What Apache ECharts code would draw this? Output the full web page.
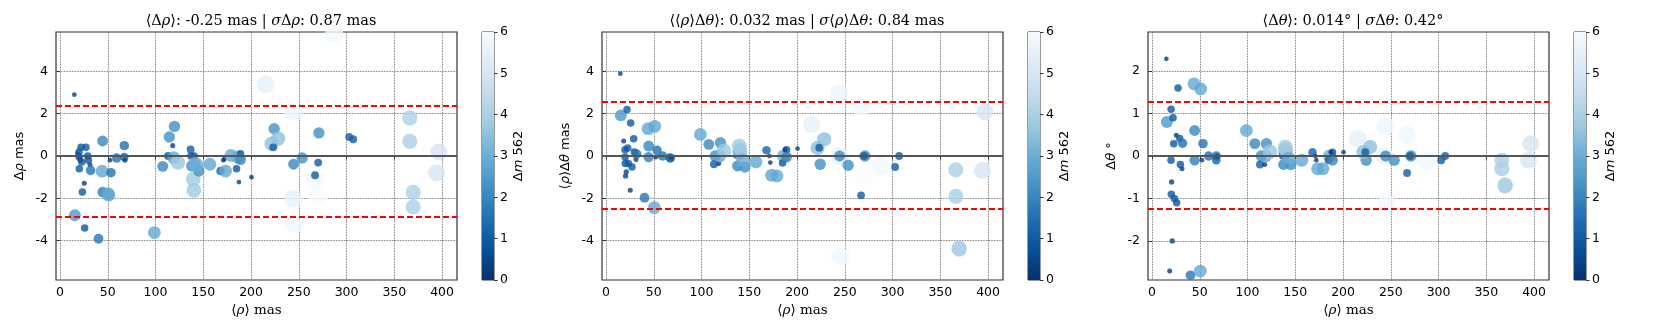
<!DOCTYPE html>
<html>
<head>
<meta charset="utf-8">
<script src="https://cdn.jsdelivr.net/npm/echarts@6/dist/echarts.min.js"></script>
<style>
  body { margin: 0; background: #fff; }
  #main { width: 1661px; height: 332px; }
</style>
</head>
<body>
<div id="main"></div>
<script>
// separation <rho> (mas) and magnitude difference of each pair
var rho = [15.0, 15.5, 18.5, 20.5, 21.2, 25.4, 31.4, 19.9, 20.0, 20.2, 22.0, 22.7, 23.4, 25.8, 27.2, 29.0, 29.7, 32.0,
  40.3, 44.0, 44.6, 44.6, 50.6, 51.0, 53.4, 52.3, 59.3, 67.3, 67.3, 68.0,
  98.8, 107.6, 114.4, 119.8, 113.0, 118.0, 119.0, 123.5,
  136.7, 137.0, 140.5, 137.7, 140.5, 139.5, 140.2, 145.4, 143.0, 156.9,
  168.0, 171.0, 172.0, 173.3, 179.0, 185.9, 189.0, 184.8, 187.3, 200.5, 189.0,
  215.4, 244.1, 244.1, 245.5, 287.0, 266.8, 270.3, 224.2, 221.4, 228.4, 223.2, 244.5, 267.0, 253.5, 271.0, 270.3, 302.7, 306.9,
  366.2, 366.2, 369.7, 369.7, 396.5, 394.1];
var dm = [0.3, 2.4, 0.35, 0.4, 0.4, 0.35, 0.35, 0.9, 0.9, 0.9, 0.9, 0.9, 0.9, 0.9, 0.9, 0.9, 0.9, 1.5,
  1.6, 2.8, 2.0, 1.8, 2.8, 2.8, 1.5, 0.3, 1.5, 1.5, 1.2, 0.35,
  2.8, 2.0, 2.2, 2.2, 1.0, 0.35, 2.8, 3.7,
  1.0, 0.9, 0.9, 2.0, 3.0, 3.8, 3.8, 2.2, 3.0, 2.8,
  1.2, 0.3, 0.3, 2.8, 2.8, 3.0, 0.9, 0.9, 0.3, 0.3, 2.0,
  5.5, 5.7, 5.5, 5.8, 5.8, 5.8, 6.0, 2.2, 3.5, 3.5, 1.0, 2.0, 1.0, 2.2, 2.2, 1.0, 1.0, 1.0,
  4.0, 4.0, 4.0, 4.0, 5.0, 5.0];
// residuals
var dRho = [2.9, -2.8, 0.1, -0.05, -0.2, -1.29, -0.41, 0.19, -0.05, -0.6, 0.41, -0.28, -1.7, -3.4, 0.41, 0.0, -0.2, -0.68,
  -3.91, -0.72, 0.71, -1.70, -1.78, -1.85, -0.79, -0.2, -0.1, 0.49, -0.05, -0.2,
  -3.62, -0.49, 0.90, 1.40, 0.0, 0.49, -0.08, -0.31,
  0.31, 0.0, 0.0, -0.47, -0.36, -1.10, -1.62, -0.71, -0.4, -0.39,
  -0.71, -0.2, -0.15, -0.71, 0.03, -0.05, 0.11, -0.6, -1.23, -1.0, -0.17,
  3.39, 2.08, -2.02, -3.2, 5.8, -1.1, -1.94, 1.29, 0.58, 0.82, 0.41, -0.39, -0.91, -0.09, 1.09, -0.31, 0.9, 0.79,
  1.80, 0.69, -1.72, -2.41, 0.19, -0.80];
var rhoDTheta = [3.89, 1.92, 0.71, -0.94, -0.75, -1.62, -0.17, 0.3, -0.05, -0.36, 2.2, 0.38, -0.36, 1.56, -0.52, 0.82, 0.19, 0.1,
  -1.97, 1.29, 0.47, -0.05, -2.44, 1.40, 0.27, -0.05, 0.0, -0.09, -0.09, -0.05,
  1.02, 0.55, 0.0, 0.63, -0.39, -0.35, 0.0, 0.24,
  0.19, 0.03, 0.0, -0.47, 0.31, 0.47, 0.2, -0.52, -0.2, -0.28,
  0.27, 0.0, -0.31, -0.91, -0.94, 0.0, 0.30, -0.33, 0.3, 0.35, -0.05,
  1.50, 2.98, 0.0, -4.74, -0.47, 2.31, -0.91, -0.39, 0.38, 0.79, 0.39, 0.0, -1.86, -0.44, 0.0, 0.0, -0.52, 0.0,
  -0.65, -1.91, -4.4, -4.35, 2.08, -0.68];
var dTheta = [2.29, 0.8, -2.71, -0.61, -2.0, 0.49, -0.3, -0.1, 1.1, -0.9, 0.9, 0.29, -1.0, -1.1, 1.6, 0.41, -0.2, 0.3,
  -2.81, 1.70, 0.60, -0.10, -2.71, 1.58, 0.29, -0.1, 0.0, 0.0, -0.1, 0.0,
  0.60, 0.29, 0.0, 0.29, -0.2, -0.2, 0.0, 0.1,
  0.09, 0.0, 0.0, -0.2, 0.1, 0.21, 0.15, -0.2, -0.05, -0.1,
  0.09, 0.0, -0.1, -0.3, -0.3, 0.0, 0.09, -0.1, 0.09, 0.09, -0.1,
  0.41, 0.70, 0.0, -1.12, -0.1, 0.50, -0.05, -0.1, 0.09, 0.21, 0.09, 0.0, -0.40, -0.1, 0.0, 0.0, -0.1, 0.0,
  -0.10, -0.30, -0.71, -0.68, 0.29, -0.10];

// ticks and summary numbers
var xTicks = [0, 50, 100, 150, 200, 250, 300, 350, 400];
var yTicksMas = [-4, -2, 0, 2, 4];
var yTicksDeg = [-2, -1, 0, 1, 2];
var means = [-0.25, 0.032, 0.014];
var sigmas = [0.87, 0.84, 0.42];
var yLims = [5.86, 5.86, 2.92];

// matplotlib Blues, reversed (0 dark -> 6 white)
var bluesR = ['#08306b', '#08519c', '#2171b5', '#4292c6', '#6baed6', '#9ecae1', '#c6dbef', '#deebf7', '#f7fbff'];

var chart = echarts.init(document.getElementById('main'));

var serif = 'DejaVu Serif';
var sans = 'DejaVu Sans';
var italicSans = { fontStyle: 'italic', fontFamily: sans, fontSize: 13, color: '#000' };
var italicSerif = { fontStyle: 'italic', fontFamily: serif, fontSize: 14.5, color: '#000' };

var titles = [
  '⟨Δ{i|ρ}⟩: -0.25 mas | {i|σ}Δ{i|ρ}: 0.87 mas',
  '⟨⟨{i|ρ}⟩Δ{i|θ}⟩: 0.032 mas | {i|σ}⟨{i|ρ}⟩Δ{i|θ}: 0.84 mas',
  '⟨Δ{i|θ}⟩: 0.014° | {i|σ}Δ{i|θ}: 0.42°'
];
var yNames = ['Δ{i|ρ} mas', '⟨{i|ρ}⟩Δ{i|θ} mas', 'Δ{i|θ} °'];
var yValues = [dRho, rhoDTheta, dTheta];
var yTicks = [yTicksMas, yTicksMas, yTicksDeg];

var option = {
  animation: false,
  backgroundColor: '#fff',
  title: [],
  grid: [],
  xAxis: [],
  yAxis: [],
  series: [],
  visualMap: {
    type: 'continuous',
    show: false,
    min: 0,
    max: 6,
    dimension: 2,
    seriesIndex: [0, 1, 2],
    inRange: { color: bluesR }
  }
};

// scatter panels first so visualMap series index is 0..2
for (var p = 0; p < 3; p++) {
  var left = 56 + 546 * p;
  var pts = [];
  for (var k = 0; k < rho.length; k++) {
    pts.push([rho[k], yValues[p][k], dm[k]]);
  }
  option.title.push({
    text: titles[p],
    left: left + 200,
    top: 9,
    textAlign: 'center',
    textStyle: {
      fontFamily: serif, fontSize: 14.5, fontWeight: 'normal', color: '#000',
      rich: { i: italicSerif }
    }
  });
  option.grid.push({
    left: left, top: 32, width: 401, height: 248,
    show: true, borderColor: '#333', borderWidth: 1.2, backgroundColor: '#fff'
  });
  option.xAxis.push({
    gridIndex: p,
    type: 'value',
    min: -4.2,
    max: 415.6,
    name: '⟨{i|ρ}⟩ mas',
    nameLocation: 'middle',
    nameGap: 22,
    nameTextStyle: { fontFamily: serif, fontSize: 13.5, color: '#000', rich: { i: { fontStyle: 'italic', fontFamily: serif, fontSize: 13.5, color: '#000' } } },
    axisLine: { show: false },
    axisTick: { show: true, inside: false, length: 3.5, customValues: xTicks, lineStyle: { color: '#333' } },
    axisLabel: { customValues: xTicks, fontFamily: sans, fontSize: 12.5, color: '#000', margin: 6 },
    splitLine: { show: true, lineStyle: { color: '#555', width: 0.8, type: 'dotted' } }
  });
  option.yAxis.push({
    gridIndex: p,
    type: 'value',
    min: -yLims[p],
    max: yLims[p],
    name: yNames[p],
    nameLocation: 'middle',
    nameGap: 30,
    nameTextStyle: { fontFamily: sans, fontSize: 13, color: '#000', rich: { i: italicSans } },
    axisLine: { show: false },
    axisTick: { show: true, inside: false, length: 3.5, customValues: yTicks[p], lineStyle: { color: '#333' } },
    axisLabel: { customValues: yTicks[p], fontFamily: sans, fontSize: 12.5, color: '#000', margin: 8 },
    splitLine: { show: true, lineStyle: { color: '#555', width: 0.8, type: 'dotted' } }
  });
  option.series.push({
    type: 'scatter',
    xAxisIndex: p,
    yAxisIndex: p,
    data: pts,
    symbolSize: function (v) { return 7.5 * Math.sqrt(v[2] + 0.1); },
    itemStyle: { opacity: 0.8 },
    markLine: {
      silent: true,
      symbol: 'none',
      label: { show: false },
      animation: false,
      data: [
        { yAxis: 0, lineStyle: { color: '#555', width: 2, type: 'solid' } },
        { yAxis: means[p] + 3 * sigmas[p], lineStyle: { color: '#ff0000', width: 1.8, type: [6, 3] } },
        { yAxis: means[p] - 3 * sigmas[p], lineStyle: { color: '#ff0000', width: 1.8, type: [6, 3] } }
      ]
    }
  });
}

// colour bars, one beside each panel
for (var c = 0; c < 3; c++) {
  var g = 3 + c;
  option.grid.push({
    left: 56 + 546 * c + 426, top: 32, width: 12, height: 248,
    show: true, borderColor: '#333', borderWidth: 1
  });
  option.xAxis.push({
    gridIndex: g, type: 'category', data: [''], show: false, boundaryGap: true
  });
  option.yAxis.push({
    gridIndex: g,
    type: 'value',
    position: 'right',
    min: 0,
    max: 6,
    interval: 1,
    name: 'Δ{i|m} 562',
    nameLocation: 'middle',
    nameRotate: 90,
    nameGap: 18,
    nameTextStyle: { fontFamily: sans, fontSize: 13, color: '#000', rich: { i: italicSans } },
    axisLine: { show: false },
    axisTick: { show: true, inside: false, length: 3.5, lineStyle: { color: '#333' } },
    axisLabel: { fontFamily: sans, fontSize: 12.5, color: '#000', margin: 6 },
    splitLine: { show: false }
  });
  option.series.push({
    type: 'bar',
    xAxisIndex: g,
    yAxisIndex: g,
    data: [6],
    barWidth: '100%',
    silent: true,
    itemStyle: {
      color: new echarts.graphic.LinearGradient(0, 1, 0, 0, bluesR.map(function (col, i) {
        return { offset: i / (bluesR.length - 1), color: col };
      }))
    }
  });
}

chart.setOption(option);
</script>
</body>
</html>
